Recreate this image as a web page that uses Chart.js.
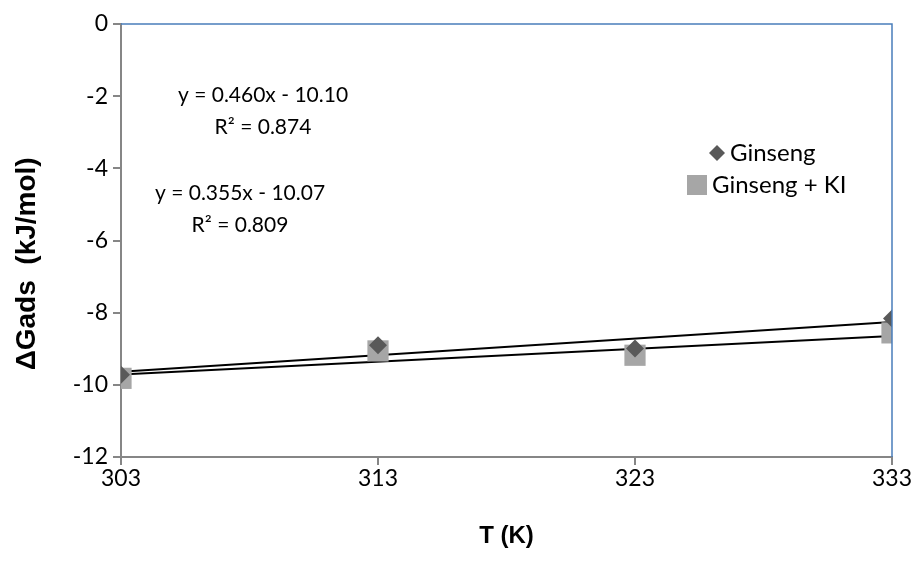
<!DOCTYPE html>
<html>
<head>
<meta charset="utf-8">
<script src="https://cdn.jsdelivr.net/npm/chart.js@4"></script>
<style>
  html, body { margin: 0; padding: 0; background: #fff; }
  #wrap { width: 916px; height: 574px; }
</style>
</head>
<body>
<div id="wrap"><canvas id="gadsChart" width="916" height="574"></canvas></div>
<script>
const temps = [303, 313, 323, 333];
const ginseng = [-9.72, -8.90, -8.99, -8.16];
const ginsengKI = [-9.82, -9.06, -9.18, -8.56];
const seriesNames = ['Ginseng', 'Ginseng + KI'];
// trendline equations shown on the chart (x = point index 1..4)
const fitGinseng = { slope: 0.460, intercept: -10.10, r2: 0.874 };
const fitKI = { slope: 0.355, intercept: -10.07, r2: 0.809 };
const yTicks = [-12, -10, -8, -6, -4, -2, 0];

const tickFont = { family: 'Lato', size: 23 };

function points(vals) {
    return temps.map((t, i) => ({ x: t, y: vals[i] }));
}
function trend(fit) {
    return [
        { x: temps[0], y: fit.slope * 1 + fit.intercept },
        { x: temps[temps.length - 1], y: fit.slope * temps.length + fit.intercept }
    ];
}

// blue top/right frame of the plot area
const frame = {
    id: 'frame',
    afterDraw(chart) {
        const { ctx, chartArea: a } = chart;
        ctx.save();
        ctx.strokeStyle = '#4a7ebb';
        ctx.lineWidth = 1.5;
        ctx.beginPath();
        ctx.moveTo(a.left, a.top);
        ctx.lineTo(a.right, a.top);
        ctx.lineTo(a.right, a.bottom);
        ctx.stroke();
        ctx.restore();
    }
};

// equation labels and legend
const notes = {
    id: 'notes',
    afterDraw(chart) {
        const ctx = chart.ctx;
        ctx.save();
        ctx.fillStyle = '#000';
        ctx.font = '21px Lato';
        ctx.textAlign = 'center';
        ctx.textBaseline = 'middle';
        ctx.fillText('y = ' + fitGinseng.slope.toFixed(3) + 'x - ' + Math.abs(fitGinseng.intercept).toFixed(2), 263, 95);
        ctx.fillText('R² = ' + fitGinseng.r2.toFixed(3), 263, 127);
        ctx.fillText('y = ' + fitKI.slope.toFixed(3) + 'x - ' + Math.abs(fitKI.intercept).toFixed(2), 240, 193);
        ctx.fillText('R² = ' + fitKI.r2.toFixed(3), 240, 225);

        // legend
        ctx.font = '24px Lato';
        ctx.textAlign = 'left';
        ctx.fillStyle = '#595959';
        ctx.beginPath();
        ctx.moveTo(717, 145);
        ctx.lineTo(725, 153);
        ctx.lineTo(717, 161);
        ctx.lineTo(709, 153);
        ctx.closePath();
        ctx.fill();
        ctx.fillStyle = '#a6a6a6';
        ctx.fillRect(687, 175, 20, 20);
        ctx.fillStyle = '#000';
        ctx.fillText(seriesNames[0], 730, 153);
        ctx.fillText(seriesNames[1], 712, 185);
        ctx.restore();
    }
};

new Chart(document.getElementById('gadsChart').getContext('2d'), {
    type: 'scatter',
    data: {
        datasets: [
            {
                label: seriesNames[0],
                data: points(ginseng),
                pointStyle: 'rectRot',
                pointRadius: 9,
                backgroundColor: '#595959',
                borderColor: '#595959',
                borderWidth: 0
            },
            {
                label: seriesNames[1],
                data: points(ginsengKI),
                pointStyle: 'rect',
                pointRadius: 15,
                backgroundColor: '#a6a6a6',
                borderColor: '#a6a6a6',
                borderWidth: 0
            },
            {
                label: 'fit 1',
                data: trend(fitGinseng),
                showLine: true,
                pointRadius: 0,
                borderColor: '#000',
                borderWidth: 2
            },
            {
                label: 'fit 2',
                data: trend(fitKI),
                showLine: true,
                pointRadius: 0,
                borderColor: '#000',
                borderWidth: 2
            }
        ]
    },
    options: {
        responsive: false,
        animation: false,
        layout: { padding: { top: 24, right: 24, left: 0, bottom: 0 } },
        plugins: {
            legend: { display: false },
            tooltip: { enabled: false }
        },
        scales: {
            x: {
                type: 'linear',
                min: temps[0],
                max: temps[temps.length - 1],
                afterBuildTicks(scale) {
                    scale.ticks = temps.map(v => ({ value: v }));
                },
                afterFit(scale) { scale.height = 117; },
                ticks: { font: tickFont, color: '#000', padding: 0 },
                grid: { drawOnChartArea: false, tickLength: 8, color: '#868686', lineWidth: 2 },
                border: { color: '#868686', width: 2 },
                title: {
                    display: true,
                    text: 'T (K)',
                    font: { family: 'Liberation Sans', size: 24, weight: 'bold' },
                    color: '#000',
                    padding: { top: 0, bottom: 23 }
                }
            },
            y: {
                min: -12,
                max: 0,
                afterBuildTicks(scale) {
                    scale.ticks = yTicks.map(v => ({ value: v }));
                },
                afterFit(scale) { scale.width = 121; },
                ticks: { font: tickFont, color: '#000', padding: 5 },
                grid: { drawOnChartArea: false, tickLength: 8, color: '#868686', lineWidth: 2 },
                border: { color: '#868686', width: 2 },
                title: {
                    display: true,
                    // trailing spaces push the rotated title a little lower, as in the original
                    text: 'ΔGads  (kJ/mol)      ',
                    font: { family: 'Liberation Sans', size: 28, weight: 'bold' },
                    color: '#000',
                    padding: { top: 10, bottom: 0 }
                }
            }
        }
    },
    plugins: [frame, notes]
});
</script>
</body>
</html>
